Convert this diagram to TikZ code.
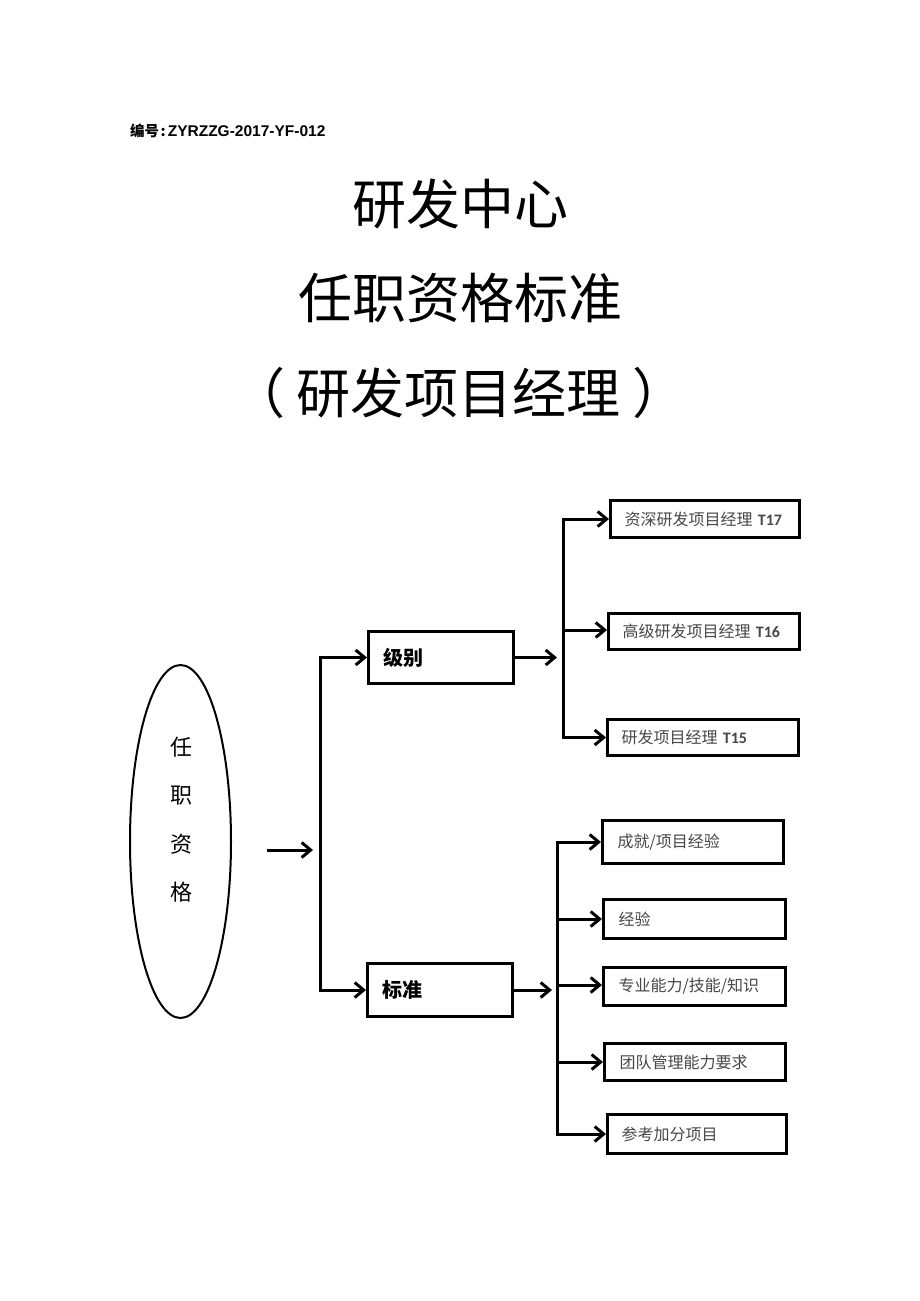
\documentclass[tikz,border=0pt]{standalone}
\usepackage{fontspec}
\setmainfont{Noto Sans CJK SC}
\newfontfamily\latfont{Liberation Sans}
\newfontfamily\calfont{Carlito}
\usetikzlibrary{arrows.meta,shapes.geometric}
\begin{document}
\begin{tikzpicture}[x=1pt,y=-1pt,
  conn/.style={line width=3pt},
  arr/.style={line width=3pt,-{Straight Barb[length=9pt,width=15pt]}},
  box/.style={draw,line width=3pt,anchor=north west,inner xsep=14pt,inner ysep=0pt,
    align=left,font=\fontsize{16}{18}\selectfont,text=black!72},
  mainbox/.style={draw,line width=3pt,anchor=north west,inner xsep=15pt,inner ysep=0pt,
    align=left,font=\fontsize{20}{22}\selectfont\bfseries},
  title/.style={anchor=base,inner sep=0pt,font=\fontsize{54}{54}\selectfont}]
\useasboundingbox[fill=white] (0,0) rectangle (920,1301);

% header and titles
\node[anchor=base west,inner sep=0pt] (hdr) at (130,136.5)
  {\fontsize{14.5}{15}\selectfont\bfseries 编号\hspace{1.5pt}:\hspace{2pt}{\latfont\fontsize{15.5}{16}\selectfont\bfseries ZYRZZG-2017-YF-012}};
\node[title] (t1) at (460,224) {研发中心};
\node[title] (t2) at (460,318) {任职资格标准};
\node[title] (t3) at (459,413) {（\hspace{12pt}研发项目经理\hspace{12pt}）};

% left ellipse
\node[draw,ellipse,line width=2pt,minimum width=101,minimum height=353,inner sep=0pt] (E) at (180.5,841.5) {};
\node[align=center,inner sep=0pt,font=\fontsize{22}{48.3}\selectfont] (Et) at (181,819.5) {任\\职\\资\\格};

% second level
\node[mainbox,minimum width=145,minimum height=52,text width=115] (L) at (367,630) {级别};
\node[mainbox,minimum width=145,minimum height=53,text width=115] (S) at (366,962) {标准};

% level boxes
\node[box,minimum width=189,minimum height=37,text width=161] (T17) at (609,499) {资深研发项目经理 {\calfont\bfseries T17}};
\node[box,minimum width=191,minimum height=36,text width=163] (T16) at (607,612) {高级研发项目经理 {\calfont\bfseries T16}};
\node[box,minimum width=191,minimum height=36,text width=163] (T15) at (606,718) {研发项目经理 {\calfont\bfseries T15}};

% standard boxes
\node[box,minimum width=181,minimum height=43,text width=151] (C1) at (601,819) {成就/项目经验};
\node[box,minimum width=182,minimum height=39,text width=152] (C2) at (602,898) {经验};
\node[box,minimum width=182,minimum height=38,text width=152] (C3) at (602,966) {专业能力/技能/知识};
\node[box,minimum width=181,minimum height=37,text width=151] (C4) at (603,1042) {团队管理能力要求};
\node[box,minimum width=179,minimum height=39,text width=151] (C5) at (606,1113) {参考加分项目};

% connectors: ellipse to trunk
\coordinate (a0) at (267,850);
\coordinate (a1) at (313,850);
\draw[arr] (a0) -- (a1);
\coordinate (tm) at (320,850);
\draw[arr] (tm) |- (L.west);
\draw[arr] (tm) |- (S.west);

% level branch
\coordinate (lj) at (557,656);
\draw[arr] (L.east) -- (L.east -| lj);
\coordinate (k) at (563,630);
\draw[arr] (k) |- (T17.west);
\draw[arr] (k) -- (k -| T16.west);
\draw[arr] (k) |- (T15.west);

% standard branch
\coordinate (sj) at (552,988.5);
\draw[arr] (S.east) -- (S.east -| sj);
\coordinate (m) at (557,985);
\draw[arr] (m) |- (C1.west);
\draw[arr] (m) |- (C2.west);
\draw[arr] (m) -- (m -| C3.west);
\draw[arr] (m) |- (C4.west);
\draw[arr] (m) |- (C5.west);
\end{tikzpicture}
\end{document}
